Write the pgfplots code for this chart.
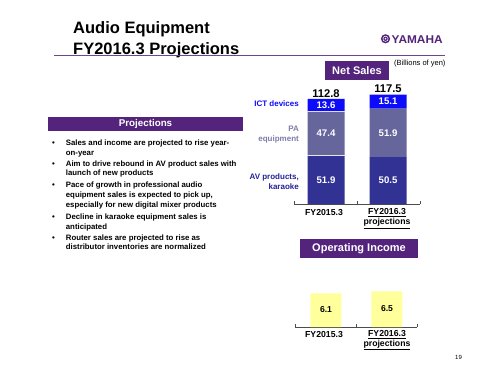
\documentclass[border=0pt]{standalone}
\usepackage{pgfplots}
\pgfplotsset{compat=1.18}
\usepackage{fontspec}
\setmainfont{Liberation Sans}
\definecolor{ypurple}{RGB}{84,36,124}
\definecolor{ictblue}{RGB}{12,12,250}
\definecolor{pagray}{RGB}{102,102,156}
\definecolor{avblue}{RGB}{50,50,148}
\definecolor{palabel}{RGB}{125,125,170}
\definecolor{avlabel}{RGB}{35,35,150}
\definecolor{oiyellow}{RGB}{255,255,155}
\newcommand{\fs}[2]{\fontsize{#1}{#2}\selectfont}
\pgfplotsset{nsaxis/.style={at={(294pt,-204pt)}, anchor=south west, scale only axis,
  width=126pt, height=120pt, xmin=-0.516, xmax=1.516, ymin=0, ymax=129, clip=false}}
\begin{document}
\begin{tikzpicture}
\begin{scope}[x=1pt,y=-1pt]
\useasboundingbox (0,0) rectangle (500,375);
\fill[white] (0,0) rectangle (500,375);
% title
\node[anchor=base west,inner sep=0] at (73,33.3) {\fs{16.5}{18}\bfseries Audio Equipment};
\node[anchor=base west,inner sep=0] at (73,54.3) {\fs{16.5}{18}\bfseries FY2016.3 Projections};
\draw[ypurple!85,line width=1.2pt] (54,55.5) -- (445,55.5);
% logo
\fill[ypurple] (385.5,38.8) circle (4.6);
\draw[white,line width=0.5pt] (385.5,38.8) circle (2.6);
\fill[white] (385.5,38.8) circle (0.9);
\node[anchor=base west,inner sep=0,text=ypurple] at (391.5,43.3) {\scalebox{1.05}[1]{\fs{11.3}{12}\bfseries YAMAHA}};
% Net Sales box
\fill[ypurple] (325,61) rectangle (389,80);
\node[white] at (357,70.5) {\fs{11}{12}\bfseries Net Sales};
\node[anchor=west,inner sep=0] at (394,63.5) {\fs{7.5}{8}(Billions of yen)};
% Projections box
\fill[ypurple] (48,117) rectangle (243,131);
\node[white] at (145.5,124) {\fs{9.8}{10}\bfseries Projections};
% bullets
\foreach \yy/\tt in {145.8/{Sales and income are projected to rise year-},155.8/{on-year},
  166.1/{Aim to drive rebound in AV product sales with},175.5/{launch of new products},
  187.8/{Pace of growth in professional audio},197.8/{equipment sales is expected to pick up,},207.3/{especially for new digital mixer products},
  219.5/{Decline in karaoke equipment sales is},229.5/{anticipated},
  240.5/{Router sales are projected to rise as},249.7/{distributor inventories are normalized}}
  {\node[anchor=base west,inner sep=0] at (65.7,\yy) {\fs{7.8}{10}\bfseries \tt};}
\foreach \yy in {145.8,166.1,187.8,219.5,240.5}
  {\node[anchor=base west,inner sep=0] at (52,\yy) {\fs{7.8}{10}\bfseries •};}
% left labels of net sales
\node[anchor=east,inner sep=0,text=ictblue,align=right,font=\fs{8}{10}\bfseries] at (299,104) {ICT devices};
\node[anchor=east,inner sep=0,text=palabel,align=right,font=\fs{8}{10.5}\bfseries] at (299,134.5) {PA\\ equipment};
\node[anchor=east,inner sep=0,text=avlabel,align=right,font=\fs{8}{10}\bfseries] at (299,181.8) {AV products,\\ karaoke};
% Operating income box
\fill[ypurple] (300,239) rectangle (418,258);
\node[white] at (359,248.5) {\fs{11}{12}\bfseries Operating Income};
% category labels
\node at (324,213) {\fs{8.7}{10}\bfseries FY2015.3};
\node at (387,213) {\fs{8.7}{10}\bfseries \underline{FY2016.3}};
\node at (387,223.5) {\fs{8.7}{10}\bfseries \underline{projections}};
\node at (324,334.5) {\fs{8.7}{10}\bfseries FY2015.3};
\node at (387,334.5) {\fs{8.7}{10}\bfseries \underline{FY2016.3}};
\node at (387,345) {\fs{8.7}{10}\bfseries \underline{projections}};
\node[anchor=base west,inner sep=0] at (455,359) {\fs{6}{7}19};
\end{scope}
% Net sales chart
\begin{axis}[nsaxis, ybar stacked, bar width=37pt,
  axis x line*=bottom, axis y line=none,
  xtick={-0.516,0.5,1.516}, xticklabels={}, major tick length=3pt, tick align=inside,
  x axis line style={black!70,line width=0.7pt}, tick style={black!70,line width=0.7pt}]
\addplot[fill=avblue, draw=none] coordinates {(0,51.9) (1,50.5)};
\addplot[fill=pagray, draw=none] coordinates {(0,47.4) (1,51.9)};
\addplot[fill=ictblue, draw=none] coordinates {(0,13.6) (1,15.1)};
\end{axis}
% overlay for labels
\begin{axis}[nsaxis, hide axis]
\draw[white!80!gray,line width=0.6pt] (axis cs:-0.3,51.9) -- (axis cs:0.3,51.9);
\draw[white!75!gray,line width=0.5pt] (axis cs:-0.3,99.3) -- (axis cs:0.3,99.3);
\node[text=white] at (axis cs:0,25.95) {\fs{9.6}{10}\bfseries 51.9};
\node[text=white] at (axis cs:0,75.6) {\fs{9.6}{10}\bfseries 47.4};
\node[text=white] at (axis cs:0,106.1) {\fs{9.6}{10}\bfseries 13.6};
\node[text=white] at (axis cs:1,25.25) {\fs{9.6}{10}\bfseries 50.5};
\node[text=white] at (axis cs:1,76.45) {\fs{9.6}{10}\bfseries 51.9};
\node[text=white] at (axis cs:1,109.95) {\fs{9.6}{10}\bfseries 15.1};
\node[anchor=south,inner sep=1.5pt] at (axis cs:0,112.8) {\fs{11.2}{12}\bfseries 112.8};
\node[anchor=south,inner sep=1.5pt] at (axis cs:1,117.5) {\fs{11.2}{12}\bfseries 117.5};
\end{axis}
% Operating income chart
\begin{axis}[at={(295pt,-327pt)}, anchor=south west, scale only axis,
  width=122pt, height=50pt, xmin=-0.508, xmax=1.492, ymin=0, ymax=9.09,
  ybar, bar width=31pt, clip=false,
  axis x line*=bottom, axis y line=none,
  xtick={-0.508,0.492,1.492}, xticklabels={}, major tick length=3pt, tick align=inside,
  x axis line style={black!70,line width=0.7pt}, tick style={black!70,line width=0.7pt}]
\addplot[fill=oiyellow, draw=none] coordinates {(0,6.1) (1,6.5)};
\node at (axis cs:0,3.1) {\fs{8.6}{10}\bfseries 6.1};
\node at (axis cs:1,3.3) {\fs{8.6}{10}\bfseries 6.5};
\end{axis}
\end{tikzpicture}
\end{document}
